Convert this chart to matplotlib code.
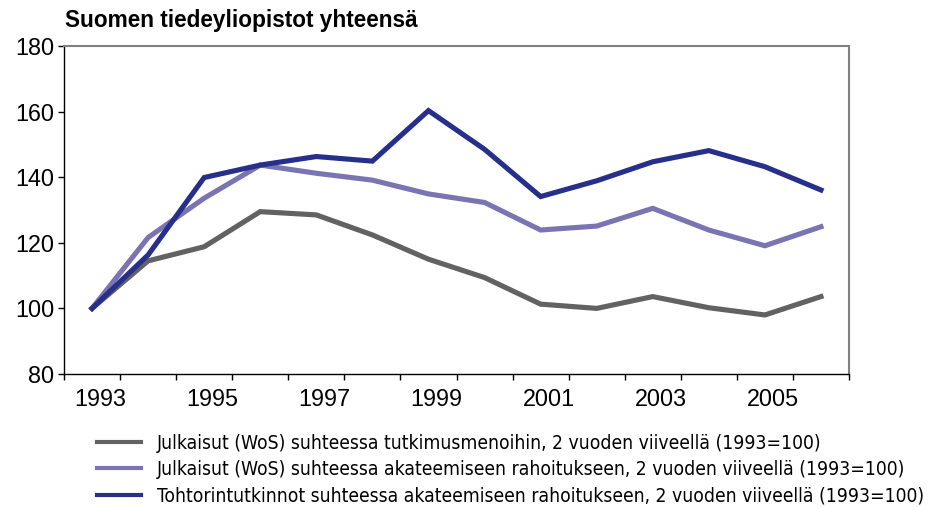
import matplotlib
matplotlib.use("Agg")
import matplotlib.pyplot as plt
import matplotlib.transforms as mtransforms
import numpy as np

years = list(range(1993, 2007))
julk_menot = [100, 114.5, 118.8, 129.5, 128.5, 122.4, 115.0, 109.4, 101.3, 100.0, 103.6, 100.2, 98.0, 103.6]
julk_rahoitus = [100, 121.6, 133.6, 143.7, 141.2, 139.1, 134.9, 132.3, 123.9, 125.1, 130.5, 123.9, 119.1, 124.9]
tohtorit = [100, 116.3, 139.9, 143.7, 146.3, 144.9, 160.3, 148.5, 134.1, 138.9, 144.7, 148.1, 143.2, 136.1]
labels = [
    "Julkaisut (WoS) suhteessa tutkimusmenoihin, 2 vuoden viiveellä (1993=100)",
    "Julkaisut (WoS) suhteessa akateemiseen rahoitukseen, 2 vuoden viiveellä (1993=100)",
    "Tohtorintutkinnot suhteessa akateemiseen rahoitukseen, 2 vuoden viiveellä (1993=100)",
]
colors = ["#626262", "#7a74b2", "#262f8a"]
year_labels = [1993, 1995, 1997, 1999, 2001, 2003, 2005]
yticks = [80, 100, 120, 140, 160, 180]

plt.rcParams["font.family"] = ["Liberation Sans", "DejaVu Sans"]

fig = plt.figure(figsize=(9.35, 5.07), dpi=100)
ax = fig.add_axes([64 / 935, 1 - 374 / 507, (849 - 64) / 935, (374 - 46) / 507])

for vals, col, lab in zip([julk_menot, julk_rahoitus, tohtorit], colors, labels):
    ax.plot(years, vals, color=col, lw=3.7, label=lab, solid_joinstyle="miter")

ax.set_xlim(1992.5, 2006.5)
ax.set_ylim(80, 180)
ax.set_yticks(yticks)
ax.tick_params(axis="y", direction="out", length=4, width=1, labelsize=16.8, pad=3)

# category boundaries as ticks, year labels in between
ax.set_xticks(np.arange(1992.5, 2007, 1.0), minor=True)
ax.set_xticks(year_labels)
ax.set_xticklabels([str(y) for y in year_labels])
ax.tick_params(axis="x", which="minor", direction="out", length=4, width=1)
ax.tick_params(axis="x", which="major", length=0, labelsize=16.8, pad=10)
shift = mtransforms.ScaledTranslation(8 / 100, 0, fig.dpi_scale_trans)
for t in ax.get_xticklabels():
    t.set_transform(t.get_transform() + shift)

for s in ["top", "right"]:
    ax.spines[s].set_color("#808080")
    ax.spines[s].set_linewidth(1.5)
for s in ["left", "bottom"]:
    ax.spines[s].set_color("black")
    ax.spines[s].set_linewidth(1.0)

fig.text(65 / 935, 1 - 27 / 507, "Suomen tiedeyliopistot yhteensä",
         fontsize=16.3, weight="bold", va="baseline", ha="left")

leg = fig.legend(loc="upper left", bbox_to_anchor=(97 / 935, 1 - 434 / 507),
                 frameon=False, handlelength=2.3, handletextpad=0.8,
                 labelspacing=0.37, borderpad=0, borderaxespad=0,
                 prop={"family": "DejaVu Sans", "stretch": "condensed", "size": 13.9})
for h in leg.get_lines():
    h.set_linewidth(3.0)

fig.savefig("out.png", dpi=100)
